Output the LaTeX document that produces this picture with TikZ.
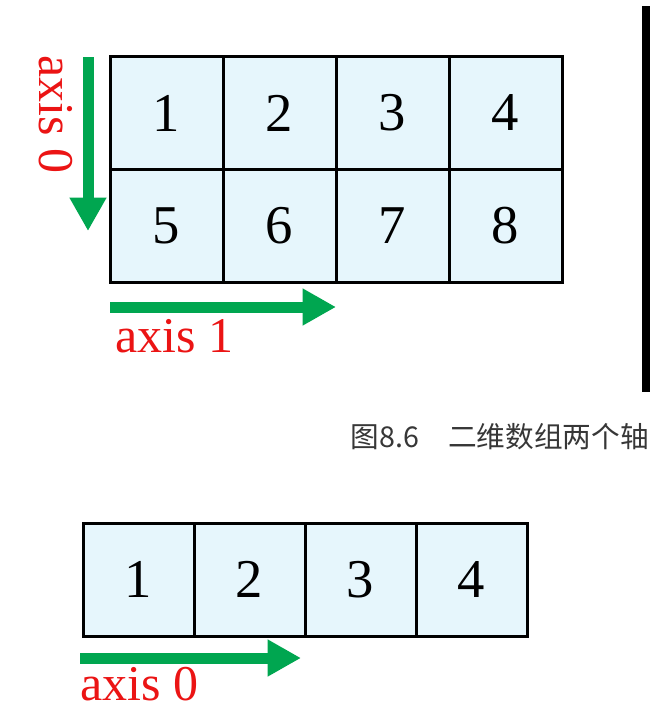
\documentclass[tikz,border=0pt]{standalone}
\usepackage{fontspec}
\setmainfont{Liberation Serif}
\newfontfamily\cjk{Noto Sans CJK SC}
\usetikzlibrary{arrows.meta}
\definecolor{cellblue}{RGB}{230,246,252}
\definecolor{axisgreen}{RGB}{0,166,80}
\definecolor{axisred}{RGB}{235,20,20}
\definecolor{captiongray}{RGB}{55,55,55}

\begin{document}
\begin{tikzpicture}[x=0.75pt, y=-0.75pt,
  cell/.style={draw, line width=2.25pt, fill=cellblue, inner sep=0pt,
    minimum width=84.75pt, minimum height=84.75pt, font=\fontsize{41}{41}\selectfont},
  cellb/.style={cell, minimum width=83.25pt},
  axislabel/.style={text=axisred, inner sep=0pt, font=\fontsize{37.5}{37.5}\selectfont},
  axisarrow/.style={draw=axisgreen, line width=8.25pt,
    -{Triangle[length=25pt,width=26pt]}, shorten >=0pt}]
\useasboundingbox (0,0) rectangle (659,722);

\node[cell] (c1) at (166.5,113) {1};
        \node[cell] (c2) at (279.5,113) {2};
                \node[cell] (c3) at (392.5,113) {3};
                        \node[cell] (c4) at (505.5,113) {4};
\node[cell] (c5) at (166.5,226) {5};
        \node[cell] (c6) at (279.5,226) {6};
                \node[cell] (c7) at (392.5,226) {7};
                        \node[cell] (c8) at (505.5,226) {8};

\coordinate (v0s) at (88,57);
\coordinate (v0e) at (88,231);
\draw[axisarrow] (v0s) -- (v0e);
\node[axislabel, rotate=-90, anchor=base west] (lv0) at (40,55) {axis 0};

\coordinate (h1s) at (110,307);
\coordinate (h1e) at (336,307);
\draw[axisarrow] (h1s) -- (h1e);
\node[axislabel, anchor=base west] (lh1) at (115,352) {axis 1};

\fill (642,6) rectangle (650,392);

\node[text=captiongray, inner sep=0pt, anchor=base east,
  font=\cjk\fontsize{21.5}{21.5}\selectfont] (cap) at (649,447) {图8.6　二维数组两个轴};

\node[cellb] (d1) at (138.5,579.5) {1};
        \node[cellb] (d2) at (249.5,579.5) {2};
                \node[cellb] (d3) at (360.5,579.5) {3};
                        \node[cellb] (d4) at (471.5,579.5) {4};

\coordinate (b0s) at (80,658);
\coordinate (b0e) at (301,658);
\draw[axisarrow] (b0s) -- (b0e);
\node[axislabel, anchor=base west] (lb0) at (80,700) {axis 0};

\end{tikzpicture}
\end{document}
